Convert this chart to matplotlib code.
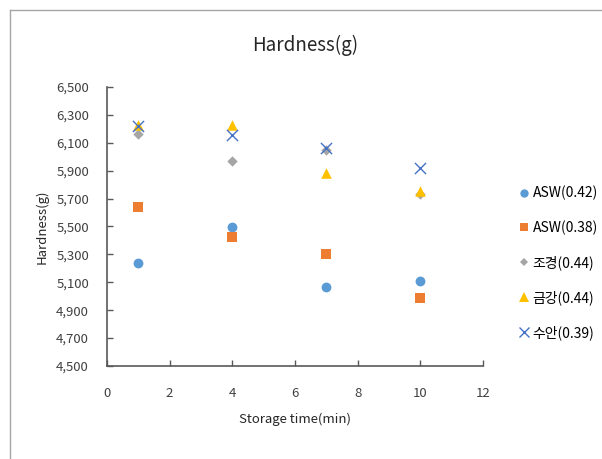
import matplotlib
matplotlib.use("Agg")
import matplotlib.pyplot as plt
from matplotlib.lines import Line2D

plt.rcParams['font.family'] = ['Noto Sans CJK KR', 'DejaVu Sans']

times = [1, 4, 7, 10]
series_names = ['ASW(0.42)', 'ASW(0.38)', '조경(0.44)', '금강(0.44)', '수안(0.39)']
asw042 = [5235, 5495, 5063, 5111]
asw038 = [5641, 5426, 5302, 4987]
jokyung = [6161, 5970, 6047, 5735]
geumgang = [6226, 6226, 5880, 5753]
suan = [6221, 6154, 6066, 5922]
yticks = [4500, 4700, 4900, 5100, 5300, 5500, 5700, 5900, 6100, 6300, 6500]
xticks = [0, 2, 4, 6, 8, 10, 12]

W, H = 602, 459
fig = plt.figure(figsize=(W/100, H/100), dpi=100)
ax = fig.add_axes([107/W, 1-366/H, (483-107)/W, (366-87)/H])

styles = [
    dict(marker='o', color='#5B9BD5', s=50),
    dict(marker='s', color='#ED7D31', s=48),
    dict(marker='D', color='#A5A5A5', s=28),
    dict(marker='^', color='#FFC000', s=58),
    dict(marker='x', color='#4472C4', s=65),
]
data = [asw042, asw038, jokyung, geumgang, suan]
for name, vals, st in zip(series_names, data, styles):
    kw = dict(marker=st['marker'], s=st['s'], zorder=3, label=name)
    if st['marker'] == 'x':
        kw.update(c=st['color'], linewidths=1.0)
    else:
        kw.update(c=st['color'], linewidths=0)
    ax.scatter(times, vals, **kw)

ax.set_xlim(0, 12)
ax.set_ylim(4500, 6500)
ax.set_xticks(xticks)
ax.set_yticks(yticks)
ax.set_yticklabels([f'{v:,}' for v in yticks])
for s in ['top', 'right']:
    ax.spines[s].set_visible(False)
for s in ['left', 'bottom']:
    ax.spines[s].set_color('#595959')
    ax.spines[s].set_linewidth(1.2)
ax.tick_params(direction='in', length=4, width=1, color='#595959', labelsize=9.5,
               labelcolor='#404040')
ax.tick_params(axis='y', pad=13)
ax.tick_params(axis='x', pad=15)

fig.text(305/W, 1-45/H, 'Hardness(g)', fontsize=13.5, color='#262626', ha='center', va='center')
ax.set_xlabel('Storage time(min)', fontsize=9.5, color='#262626', labelpad=9)
ax.set_ylabel('Hardness(g)', fontsize=9.5, color='#262626', labelpad=5)

handles = []
for name, st in zip(series_names, styles):
    ms = {'o': 6, 's': 6, 'D': 4.5, '^': 7, 'x': 7}[st['marker']]
    handles.append(Line2D([], [], linestyle='none', marker=st['marker'], color=st['color'],
                          markersize=ms, markeredgewidth=1.0 if st['marker'] == 'x' else 0))
fig.legend(handles, series_names, loc='center left', bbox_to_anchor=(514/W, 1-263/H),
           frameon=False, fontsize=10, handlelength=0.6, handletextpad=0.35,
           labelspacing=1.45, borderaxespad=0)

# chart frame lines (left and top)
fig.add_artist(Line2D([9.5/W, 9.5/W], [0, 1-9.5/H], color='#A6A6A6', lw=1, transform=fig.transFigure))
fig.add_artist(Line2D([9.5/W, 1], [1-9.5/H, 1-9.5/H], color='#A6A6A6', lw=1, transform=fig.transFigure))

fig.savefig('out.png', dpi=100)
